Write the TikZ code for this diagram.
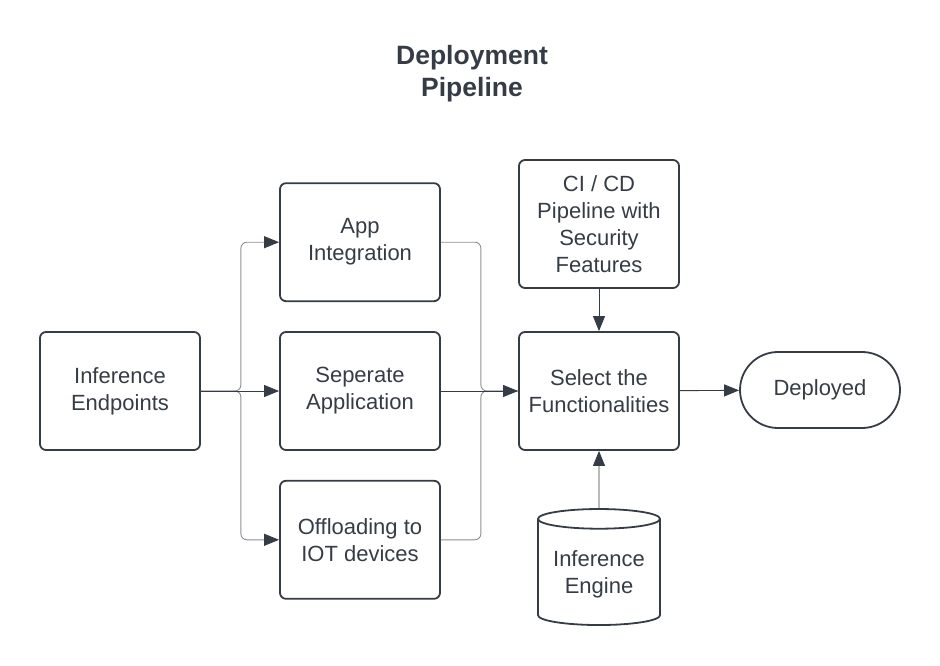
\documentclass[tikz,border=0pt]{standalone}
\usepackage{fontspec}
\setmainfont{Liberation Sans}
\usetikzlibrary{arrows.meta}
\usetikzlibrary{shapes.geometric}
\usetikzlibrary{positioning}

\definecolor{ink}{HTML}{363C45}
\definecolor{wire}{HTML}{8A8F95}

\begin{document}
\begin{tikzpicture}[x=1pt,y=-1pt,
    box/.style={draw=ink,line width=1.8pt,rounded corners=6pt,minimum width=160pt,
      minimum height=118pt,align=center,text=ink,font=\fontsize{22}{27}\selectfont},
    pill/.style={draw=ink,line width=1.8pt,rounded corners=38pt,minimum width=160pt,
      minimum height=76pt,text=ink,font=\fontsize{22}{27}\selectfont},
    can/.style={draw=ink,line width=1.8pt,shape=cylinder,shape border rotate=90,
      aspect=0.2,minimum width=122pt,minimum height=116pt,align=center,text=ink,
      font=\fontsize{22}{27}\selectfont},
    link/.style={draw=ink,line width=0.9pt,-{Triangle[length=15pt,width=12pt]}},
    branch/.style={draw=wire,line width=0.9pt,rounded corners=6pt}]

    % fix the page
    \useasboundingbox (0,0) rectangle (940,666);

    % title
    \node [text=ink,align=center,font=\fontsize{26.5}{32}\bfseries] (title) at (472,74)
      {Deployment\\Pipeline};

    % boxes
    \node [box] (ie) at (120,391) {Inference\\Endpoints};
    \node [box] (sep) at (360,391) {Seperate\\Application};
    \node [box,above=29pt of sep] (app) {App\\Integration};
    \node [box,below=29pt of sep] (off) {Offloading to\\IOT devices};
    \node [box] (sel) at (599,391) {Select the\\Functionalities};
    \node [box,minimum height=128pt] (cicd) at (599,224) {CI / CD\\Pipeline with\\Security\\Features};
    \node [pill] (dep) at (820,390) {Deployed};
    \node [can] (eng) at (599,574) {Inference\\Engine};

    % fan out
    \draw [branch,-{Triangle[length=15pt,width=12pt,color=ink]}] (ie.east) -- ++(40,0) |- (app.west);
    \draw [branch,-{Triangle[length=15pt,width=12pt,color=ink]}] (ie.east) -- ++(40,0) |- (off.west);
    \draw [link] (ie) -- (sep);

    % fan in
    \draw [branch] (app.east) -- ++(40,0) |- (sel.west);
    \draw [branch] (off.east) -- ++(40,0) |- (sel.west);
    \draw [link] (sep) -- (sel);

    % into and out of the selection
    \draw [link] (cicd) -- (sel);
    \draw [link] (eng.north) -- (sel.south);
    \draw [link] (sel) -- (dep);

\end{tikzpicture}
\end{document}
